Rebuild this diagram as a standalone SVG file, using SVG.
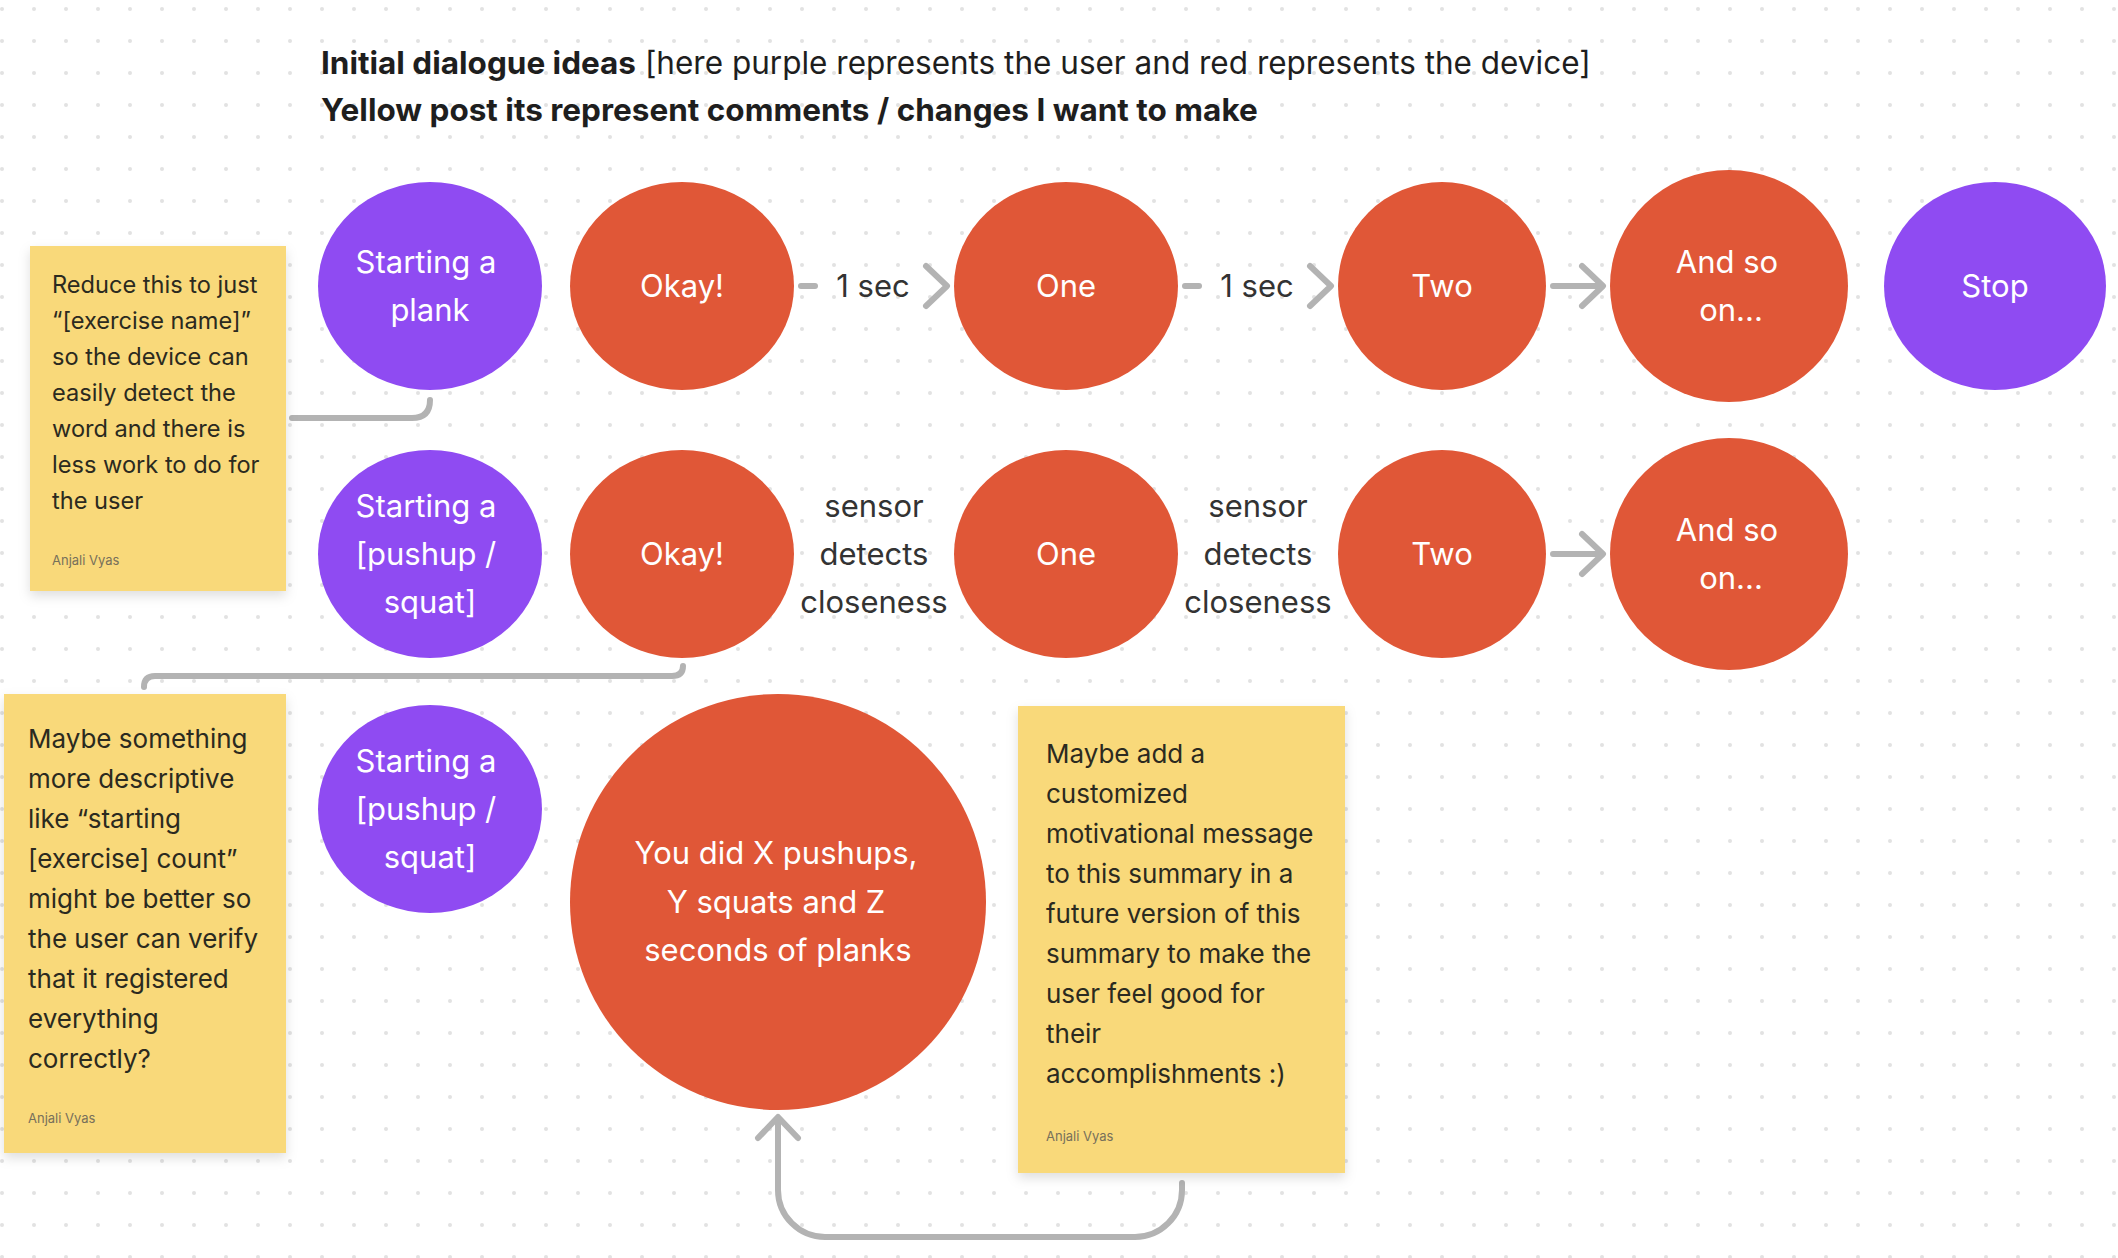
<svg xmlns="http://www.w3.org/2000/svg" width="2118" height="1258" viewBox="0 0 2118 1258">
<defs>
<pattern id="dots" x="0" y="0" width="32" height="32" patternUnits="userSpaceOnUse">
<circle cx="2" cy="9" r="2" fill="#e2e2e2"/>
</pattern>
<filter id="shadow" x="-20%" y="-20%" width="140%" height="140%">
<feDropShadow dx="0" dy="5" stdDeviation="6" flood-color="#000" flood-opacity="0.13"/>
</filter>
<style>
.user{fill:#8F4BF2}
.dev{fill:#E05737}
.note{fill:#F9D97A;filter:url(#shadow)}
.nt{font-family:Inter,"Noto Sans",sans-serif;fill:#fff;font-size:31px;text-anchor:middle}
.lbl{font-family:Inter,"Noto Sans",sans-serif;fill:#333;font-size:31px;text-anchor:middle}
.st{font-family:Inter,"Noto Sans",sans-serif;fill:#2b2a20}
.auth{font-family:Inter,"Noto Sans",sans-serif;fill:#77705a;font-size:13px}
.hd{font-family:Inter,"Noto Sans",sans-serif;fill:#1e1e1e;font-size:31.5px}
.con{fill:none;stroke:#b3b3b3;stroke-width:6;stroke-linecap:round;stroke-linejoin:round}
</style>
</defs>
<rect width="2118" height="1258" fill="#fff"/>
<rect width="2118" height="1258" fill="url(#dots)"/>

<g id="header">
<text class="hd" x="321" y="74"><tspan font-weight="700">Initial dialogue ideas</tspan> [here purple represents the user and red represents the device]</text>
<text class="hd" x="321" y="121" font-weight="700">Yellow post its represent comments / changes I want to make</text>
</g>

<g id="connectors">
<path class="con" d="M292,418 H412 Q430,418 430,400"/>
<path class="con" d="M144,687 Q144,676 155,676 H672 Q683,676 683,666"/>
<path class="con" d="M801,286 H815"/>
<path class="con" d="M926,266 L947,286 L926,306"/>
<path class="con" d="M1185,286 H1199"/>
<path class="con" d="M1310,266 L1331,286 L1310,306"/>
<path class="con" d="M1553,286 H1602 M1582,266 L1603,286 L1582,306"/>
<path class="con" d="M1553,554 H1602 M1582,534 L1603,554 L1582,574"/>
<path class="con" d="M1182,1183 V1190 A47,47 0 0 1 1135,1237 H825 A47,47 0 0 1 778,1190 V1118 M758,1138 L778,1117 L798,1138"/>
</g>

<g id="note1">
<rect class="note" x="30" y="246" width="256" height="345"/>
<text class="st" font-size="23.6">
<tspan x="52" y="293">Reduce this to just</tspan>
<tspan x="52" y="329">“[exercise name]”</tspan>
<tspan x="52" y="365">so the device can</tspan>
<tspan x="52" y="401">easily detect the</tspan>
<tspan x="52" y="437">word and there is</tspan>
<tspan x="52" y="473">less work to do for</tspan>
<tspan x="52" y="509">the user</tspan>
</text>
<text class="auth" x="52" y="565">Anjali Vyas</text>
</g>

<g id="note2">
<rect class="note" x="4" y="694" width="282" height="459"/>
<text class="st" font-size="26">
<tspan x="28" y="748">Maybe something</tspan>
<tspan x="28" y="788">more descriptive</tspan>
<tspan x="28" y="828">like “starting</tspan>
<tspan x="28" y="868">[exercise] count”</tspan>
<tspan x="28" y="908">might be better so</tspan>
<tspan x="28" y="948">the user can verify</tspan>
<tspan x="28" y="988">that it registered</tspan>
<tspan x="28" y="1028">everything</tspan>
<tspan x="28" y="1068">correctly?</tspan>
</text>
<text class="auth" x="28" y="1123">Anjali Vyas</text>
</g>

<g id="note3">
<rect class="note" x="1018" y="706" width="327" height="467"/>
<text class="st" font-size="26">
<tspan x="1046" y="763">Maybe add a</tspan>
<tspan x="1046" y="803">customized</tspan>
<tspan x="1046" y="843">motivational message</tspan>
<tspan x="1046" y="883">to this summary in a</tspan>
<tspan x="1046" y="923">future version of this</tspan>
<tspan x="1046" y="963">summary to make the</tspan>
<tspan x="1046" y="1003">user feel good for</tspan>
<tspan x="1046" y="1043">their</tspan>
<tspan x="1046" y="1083">accomplishments :)</tspan>
</text>
<text class="auth" x="1046" y="1141">Anjali Vyas</text>
</g>

<g id="plank">
<ellipse class="user" cx="430" cy="286" rx="112" ry="104"/>
<text class="nt"><tspan x="426" y="273">Starting a</tspan><tspan x="430" y="321">plank</tspan></text>
</g>
<g id="okay1">
<ellipse class="dev" cx="682" cy="286" rx="112" ry="104"/>
<text class="nt" x="682" y="297">Okay!</text>
</g>
<g id="lbl1"><text class="lbl" x="873" y="297">1 sec</text></g>
<g id="one1">
<ellipse class="dev" cx="1066" cy="286" rx="112" ry="104"/>
<text class="nt" x="1066" y="297">One</text>
</g>
<g id="lbl2"><text class="lbl" x="1257" y="297">1 sec</text></g>
<g id="two1">
<ellipse class="dev" cx="1442" cy="286" rx="104" ry="104"/>
<text class="nt" x="1442" y="297">Two</text>
</g>
<g id="andso1">
<ellipse class="dev" cx="1729" cy="286" rx="119" ry="116"/>
<text class="nt"><tspan x="1727" y="273">And so</tspan><tspan x="1731" y="321">on...</tspan></text>
</g>
<g id="stop">
<ellipse class="user" cx="1995" cy="286" rx="111" ry="104"/>
<text class="nt" x="1995" y="297">Stop</text>
</g>

<g id="pushup1">
<ellipse class="user" cx="430" cy="554" rx="112" ry="104"/>
<text class="nt"><tspan x="426" y="517">Starting a</tspan><tspan x="426" y="565">[pushup /</tspan><tspan x="430" y="613">squat]</tspan></text>
</g>
<g id="okay2">
<ellipse class="dev" cx="682" cy="554" rx="112" ry="104"/>
<text class="nt" x="682" y="565">Okay!</text>
</g>
<g id="lbl3"><text class="lbl"><tspan x="874" y="517">sensor</tspan><tspan x="874" y="565">detects</tspan><tspan x="874" y="613">closeness</tspan></text></g>
<g id="one2">
<ellipse class="dev" cx="1066" cy="554" rx="112" ry="104"/>
<text class="nt" x="1066" y="565">One</text>
</g>
<g id="lbl4"><text class="lbl"><tspan x="1258" y="517">sensor</tspan><tspan x="1258" y="565">detects</tspan><tspan x="1258" y="613">closeness</tspan></text></g>
<g id="two2">
<ellipse class="dev" cx="1442" cy="554" rx="104" ry="104"/>
<text class="nt" x="1442" y="565">Two</text>
</g>
<g id="andso2">
<ellipse class="dev" cx="1729" cy="554" rx="119" ry="116"/>
<text class="nt"><tspan x="1727" y="541">And so</tspan><tspan x="1731" y="589">on...</tspan></text>
</g>

<g id="pushup2">
<ellipse class="user" cx="430" cy="809" rx="112" ry="104"/>
<text class="nt"><tspan x="426" y="772">Starting a</tspan><tspan x="426" y="820">[pushup /</tspan><tspan x="430" y="868">squat]</tspan></text>
</g>
<g id="summary">
<circle class="dev" cx="778" cy="902" r="208"/>
<text class="nt"><tspan x="776" y="864">You did X pushups,</tspan><tspan x="776" y="913">Y squats and Z</tspan><tspan x="778" y="961">seconds of planks</tspan></text>
</g>
</svg>
